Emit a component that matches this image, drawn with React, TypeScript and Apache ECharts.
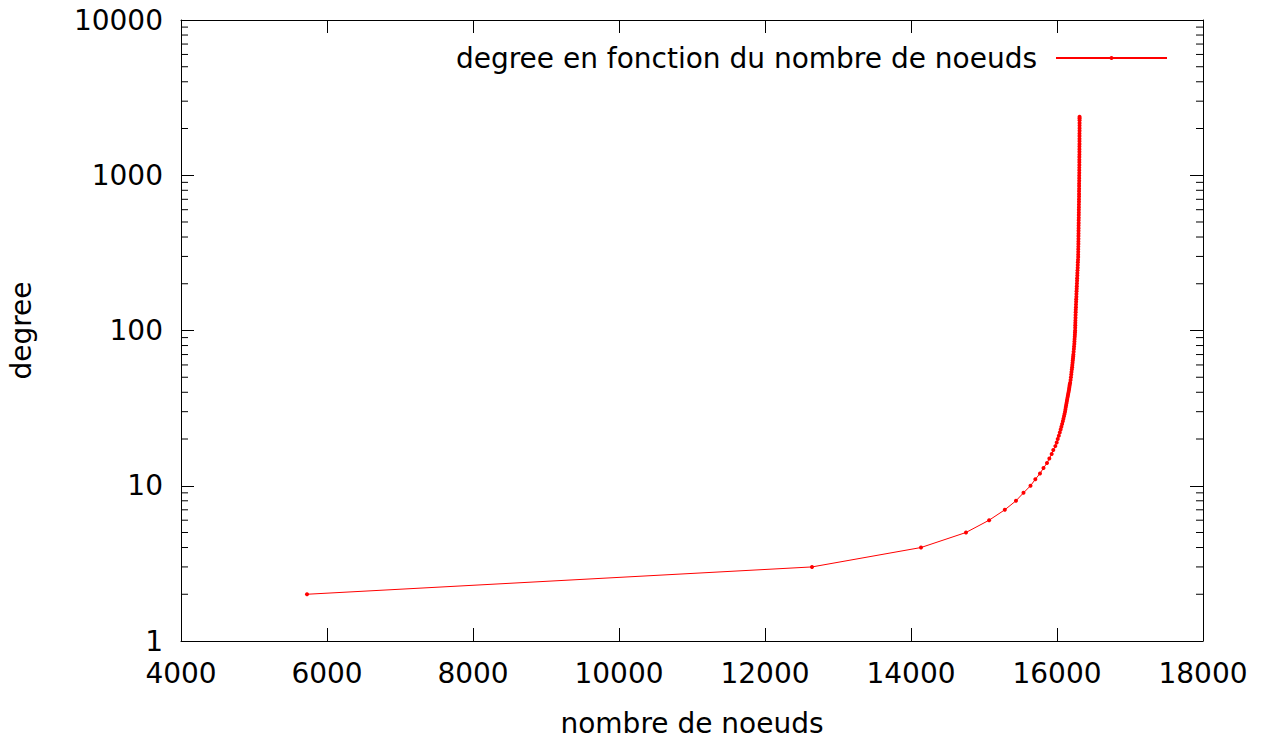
import React, { useEffect, useRef } from "react";
import * as echarts from "echarts";

// Number of nodes reached for each degree value (one entry per degree below)
const nodeCounts = [
  5726, 12644, 14137, 14753, 15070, 15285, 15438, 15541, 15637, 15703,
  15767, 15815, 15863, 15895, 15927, 15949, 15977, 15996, 16010, 16025,
  16038, 16050, 16060, 16070, 16080, 16088, 16096, 16103, 16110, 16115,
  16120, 16125, 16130, 16135, 16139, 16144, 16149, 16153, 16158, 16162,
  16166, 16169, 16172, 16175, 16180, 16186, 16191, 16195, 16199, 16203,
  16207, 16210, 16213, 16216, 16219, 16222, 16224, 16228, 16231, 16234,
  16237, 16239, 16241, 16243, 16245, 16247, 16248, 16249, 16250, 16251,
  16252, 16253, 16254, 16256, 16257, 16259, 16260, 16262, 16263, 16265,
  16266, 16268, 16270, 16271, 16273, 16275, 16276, 16278, 16279, 16281,
  16283, 16284, 16286, 16288, 16290, 16290, 16291, 16291, 16292, 16293,
  16293, 16294, 16294, 16295, 16295, 16296, 16296, 16297, 16297, 16298,
  16298, 16299, 16299, 16300, 16300, 16301, 16301, 16302, 16302, 16302,
  16303, 16303, 16303, 16304, 16304, 16304, 16305, 16305, 16305, 16306,
  16306, 16306, 16306, 16307, 16307, 16307, 16307, 16308, 16308, 16308,
  16308, 16308, 16309, 16309, 16309, 16309, 16309, 16309, 16309,
];
const degrees = [
  2, 3, 4, 5, 6, 7, 8, 9, 10, 11,
  12, 13, 14, 15, 16, 17, 18, 19, 20, 21,
  22, 23, 24, 25, 26, 27, 28, 29, 30, 31,
  32, 33, 34, 35, 36, 37, 38, 39, 40, 41,
  42, 43, 44, 45, 46, 48, 50, 52, 54, 56,
  58, 60, 62, 64, 66, 68, 70, 73, 76, 79,
  82, 85, 88, 91, 94, 97, 100, 104, 108, 112,
  116, 121, 126, 131, 136, 141, 147, 153, 159, 165,
  172, 179, 186, 193, 201, 209, 217, 226, 235, 244,
  254, 264, 275, 286, 297, 309, 321, 334, 347, 361,
  375, 390, 406, 422, 439, 456, 474, 493, 513, 533,
  554, 576, 599, 623, 648, 674, 701, 729, 758, 788,
  819, 852, 886, 921, 958, 996, 1036, 1077, 1120, 1165,
  1211, 1259, 1309, 1361, 1415, 1471, 1530, 1591, 1654, 1720,
  1789, 1860, 1934, 2011, 2091, 2174, 2261, 2330, 2380,
];

// Minor ticks of the logarithmic degree axis
const yMinorTicks = [
  2, 3, 4, 5, 6, 7, 8, 9,
  20, 30, 40, 50, 60, 70, 80, 90,
  200, 300, 400, 500, 600, 700, 800, 900,
  2000, 3000, 4000, 5000, 6000, 7000, 8000, 9000,
];

const seriesName = "degree en fonction du nombre de noeuds";
const FONT = "DejaVu Sans";

export default function App() {
  const ref = useRef<HTMLDivElement>(null);

  useEffect(() => {
    document.body.style.margin = "0";
    document.body.style.overflow = "hidden";
    if (!ref.current) return;
    const chart = echarts.init(ref.current, null, { renderer: "svg" });

    const axisLine = { show: true, lineStyle: { color: "#000", width: 1 } };
    const tickStyle = { inside: true, length: 13, lineStyle: { color: "#000", width: 1 } };
    const plain = (v: number) => String(v);

    chart.setOption({
      animation: false,
      backgroundColor: "#fff",
      textStyle: { fontFamily: FONT },
      grid: {
        left: 181,
        top: 20,
        width: 1022,
        height: 621,
        containLabel: false,
        outerBoundsMode: "none",
      },
      legend: {
        data: [seriesName],
        right: 93,
        top: 39,
        align: "right",
        itemWidth: 111,
        itemHeight: 5,
        textStyle: { fontSize: 28, color: "#000", fontFamily: FONT, padding: [0, 14, 0, 0] },
      },
      xAxis: [
        {
          type: "value",
          min: 4000,
          max: 18000,
          interval: 2000,
          position: "bottom",
          axisLine,
          axisTick: tickStyle,
          splitLine: { show: false },
          axisLabel: { fontSize: 28, color: "#000", fontFamily: FONT, margin: 18, formatter: plain },
          name: "nombre de noeuds",
          nameLocation: "middle",
          nameGap: 68,
          nameTextStyle: { fontSize: 28, color: "#000", fontFamily: FONT },
        },
        {
          type: "value",
          min: 4000,
          max: 18000,
          interval: 2000,
          position: "top",
          axisLine,
          axisTick: tickStyle,
          splitLine: { show: false },
          axisLabel: { show: false },
        },
      ],
      yAxis: [
        {
          type: "log",
          min: 1,
          max: 10000,
          logBase: 10,
          position: "left",
          axisLine,
          axisTick: tickStyle,
          splitLine: { show: false },
          axisLabel: { fontSize: 28, color: "#000", fontFamily: FONT, margin: 18, formatter: plain },
          name: "degree",
          nameLocation: "middle",
          nameGap: 146,
          nameRotate: 90,
          nameTextStyle: { fontSize: 28, color: "#000", fontFamily: FONT },
        },
        {
          type: "log",
          min: 1,
          max: 10000,
          logBase: 10,
          position: "right",
          axisLine,
          axisTick: tickStyle,
          splitLine: { show: false },
          axisLabel: { show: false },
        },
      ],
      series: [
        {
          name: "minorTicks",
          type: "custom",
          xAxisIndex: 0,
          yAxisIndex: 0,
          silent: true,
          clip: false,
          data: yMinorTicks.map((v) => [4000, v]),
          renderItem: (params: any, api: any) => {
            const cs = params.coordSys;
            const y = api.coord([4000, api.value(1)])[1];
            const style = { stroke: "#000", lineWidth: 1 };
            return {
              type: "group",
              children: [
                { type: "line", shape: { x1: cs.x, y1: y, x2: cs.x + 7, y2: y }, style },
                {
                  type: "line",
                  shape: { x1: cs.x + cs.width, y1: y, x2: cs.x + cs.width - 7, y2: y },
                  style,
                },
              ],
            };
          },
        },
        {
          name: seriesName,
          type: "line",
          xAxisIndex: 0,
          yAxisIndex: 0,
          data: nodeCounts.map((n, i) => [n, degrees[i]]),
          symbol: "circle",
          symbolSize: 4,
          showSymbol: true,
          lineStyle: { color: "#ff0000", width: 1 },
          itemStyle: { color: "#ff0000" },
          z: 5,
        },
      ],
    });

    return () => chart.dispose();
  }, []);

  return <div ref={ref} style={{ width: 1266, height: 744, background: "#fff" }} />;
}
